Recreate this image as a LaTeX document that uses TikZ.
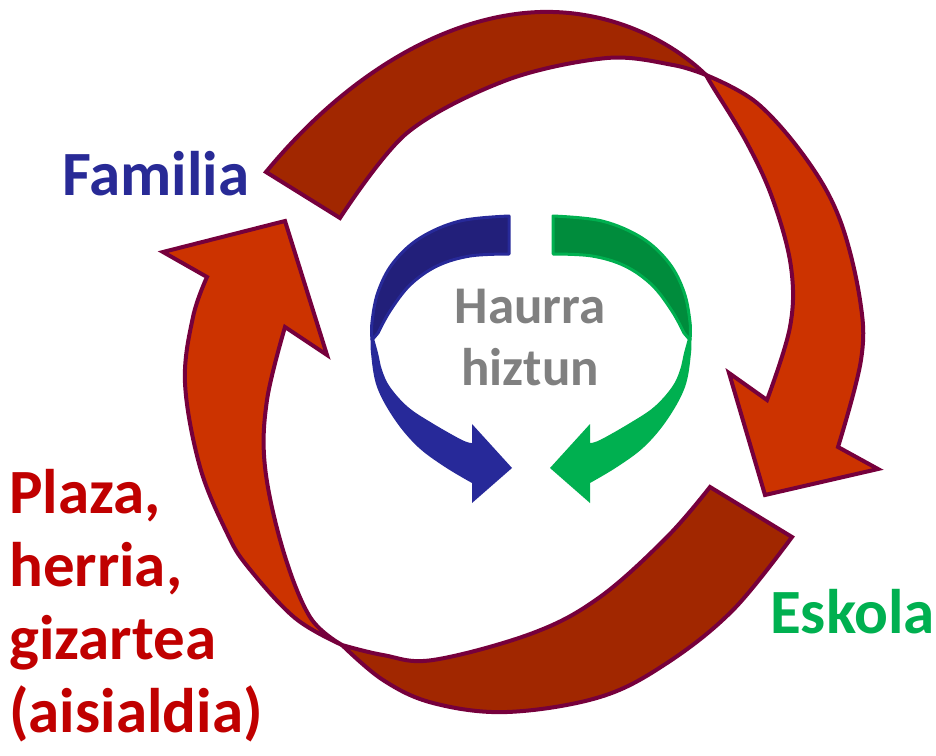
\documentclass[tikz,border=0pt]{standalone}
\usepackage{fontspec}
\setmainfont{Carlito}
\definecolor{outl}{RGB}{118,0,60}
\definecolor{bandd}{RGB}{161,39,0}
\definecolor{bando}{RGB}{204,51,0}
\definecolor{bluel}{RGB}{39,41,153}
\definecolor{blued}{RGB}{34,31,122}
\definecolor{greenl}{RGB}{0,176,80}
\definecolor{greend}{RGB}{0,140,60}
\definecolor{famblue}{RGB}{40,42,150}
\definecolor{eskgreen}{RGB}{0,176,80}
\definecolor{plred}{RGB}{192,0,0}
\definecolor{hgray}{RGB}{128,128,128}
\tikzset{
  bigdark/.style={fill=bandd, draw=outl, line width=4pt, line join=miter},
  bigorange/.style={fill=bando, draw=outl, line width=4pt, line join=miter},
  smalllight/.style={fill=#1l, draw=none},
  smalldark/.style={fill=#1d, draw=#1l, line width=3pt, line join=round},
  lbl/.style={font=\bfseries\fontsize{63}{74}\selectfont, inner sep=0pt, anchor=base west},
  plbl/.style={font=\bfseries\fontsize{63}{73}\selectfont, inner sep=0pt, anchor=base west, text=plred},
  hlbl/.style={font=\bfseries\fontsize{53}{62}\selectfont, inner sep=0pt, anchor=base, text=hgray}
}
\begin{document}
\begin{tikzpicture}[x=1pt,y=-1pt]
\useasboundingbox (0,0) rectangle (936,755);
% top big arrow: dark band
\path[bigdark] (266,172) .. controls (350,70) and (450,15) .. (540,12)
  .. controls (610,10) and (670,40) .. (706,75)
  -- plot[smooth,tension=0.55] coordinates {(706,75)(673,65)(607,58)(507,80)(407,133)(340,218)} -- cycle;
% top big arrow: orange part with head
\path[bigorange] plot[smooth,tension=0.6] coordinates {(706,75)(757,103)(807,160)(840,220)(860,300)(861,360)(838,447)}
  -- (878,469) -- (765,495) -- (729,373)
  -- plot[smooth,tension=0.6] coordinates {(767,400)(790,327)(791,267)(773,200)(747,143)(713,87)(706,75)} -- cycle;
% bottom big arrow: dark band
\path[bigdark] plot[smooth,tension=0.6] coordinates {(792,537)(733,610)(667,663)(600,697)(507,712)(433,703)(383,680)(342,645)}
  -- plot[smooth,tension=0.6] coordinates {(342,645)(383,655)(433,660)(533,633)(600,597)(667,537)(710,487)} -- cycle;
% bottom big arrow: orange part with head
\path[bigorange] plot[smooth,tension=0.6] coordinates {(342,645)(295,618)(248,567)(227,533)(200,467)(185,383)(193,317)(207,277)}
  -- (163,252) -- (285,221) -- (327,355)
  -- plot[smooth,tension=0.6] coordinates {(285,327)(267,400)(265,467)(283,550)(310,617)(342,645)} -- cycle;
% blue small arrow
\path[smalllight=blue] plot[smooth,tension=0.6] coordinates {(371,335)(371,353)(377,387)(395,420)(418,447)(445,467)(472,483)}
  -- (472,503) -- (512,468) -- (472,424)
  -- plot[smooth,tension=0.6] coordinates {(472,443)(462,440)(432,423)(408,407)(390,387)(382,370)(378,353)(373,335)} -- cycle;
\path[smalldark=blue] plot[smooth,tension=0.6] coordinates {(509,216)(460,221)(420,238)(393,263)(378,292)(372,322)(372,340)}
  -- plot[smooth,tension=0.6] coordinates {(378,333)(390,311)(410,285)(437,266)(470,256)(509,254)} -- cycle;
% green small arrow (mirror)
\begin{scope}[xshift=1062pt, xscale=-1]
\path[smalllight=green] plot[smooth,tension=0.6] coordinates {(371,335)(371,353)(377,387)(395,420)(418,447)(445,467)(472,483)}
  -- (472,503) -- (512,468) -- (472,424)
  -- plot[smooth,tension=0.6] coordinates {(472,443)(462,440)(432,423)(408,407)(390,387)(382,370)(378,353)(373,335)} -- cycle;
\path[smalldark=green] plot[smooth,tension=0.6] coordinates {(509,216)(460,221)(420,238)(393,263)(378,292)(372,322)(372,340)}
  -- plot[smooth,tension=0.6] coordinates {(378,333)(390,311)(410,285)(437,266)(470,256)(509,254)} -- cycle;
\end{scope}
% texts
\node[lbl, text=famblue] (fam) at (62,195) {Familia};
\node[lbl, text=eskgreen] (esk) at (770,633) {Eskola};
\node[plbl] (pl1) at (9,513) {Plaza,};
\node[plbl] (pl2) at (9,586) {herria,};
\node[plbl] (pl3) at (9,659) {gizartea};
\node[plbl] (pl4) at (9,732) {(aisialdia)};
\node[hlbl] (h1) at (530,323) {Haurra};
\node[hlbl] (h2) at (530,385) {hiztun};
\end{tikzpicture}
\end{document}
